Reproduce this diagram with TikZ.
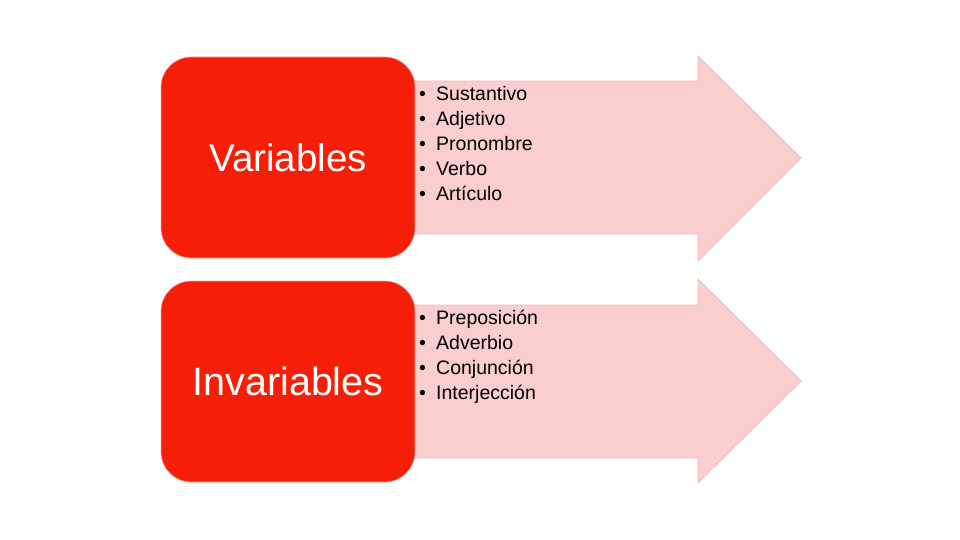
\documentclass[tikz,border=0pt]{standalone}
\usepackage{fontspec}
\setmainfont{Liberation Sans}
\usetikzlibrary{positioning}

\definecolor{boxred}{RGB}{246,30,6}
\definecolor{boxedge}{RGB}{250,170,160}
\definecolor{arrowpink}{RGB}{250,206,206}
\definecolor{arrowedge}{RGB}{240,186,186}

\begin{document}
\begin{tikzpicture}[x=1pt,y=-1pt]
\tikzset{
  arrowshape/.style={fill=arrowpink,draw=arrowedge,line width=0.8pt,line join=miter},
  groupbox/.style={rectangle,rounded corners=30pt,fill=boxred,draw=boxedge,line width=0.6pt,
    minimum width=254pt,minimum height=201pt,inner sep=0pt,text=white,font=\fontsize{38.5}{40}\selectfont},
  itemlist/.style={anchor=west,inner sep=0pt,align=left,text=black,font=\fontsize{19.5}{25}\selectfont}
}
\useasboundingbox (0,0) rectangle (960,540);
% arrows behind the boxes
\draw[arrowshape] (400,81) -- (698,81) -- (698,56) -- (801,158) -- (698,261) -- (698,234) -- (400,234) -- cycle;
\draw[arrowshape] (400,305) -- (698,305) -- (698,279) -- (801,381) -- (698,483) -- (698,458) -- (400,458) -- cycle;
% boxes
\node[groupbox] (n_var) at (288,157.5) {Variables};
\node[groupbox,font=\fontsize{39.5}{40}\selectfont] (n_inv) at (288,381.5) {Invariables};
% lists
\node[itemlist] (l_var) at (419,144) {\makebox[17pt][l]{•}Sustantivo\\ \makebox[17pt][l]{•}Adjetivo\\ \makebox[17pt][l]{•}Pronombre\\ \makebox[17pt][l]{•}Verbo\\ \makebox[17pt][l]{•}Artículo};
\node[itemlist] (l_inv) at (419,357) {\makebox[17pt][l]{•}Preposición\\ \makebox[17pt][l]{•}Adverbio\\ \makebox[17pt][l]{•}Conjunción\\ \makebox[17pt][l]{•}Interjección};
\end{tikzpicture}
\end{document}
